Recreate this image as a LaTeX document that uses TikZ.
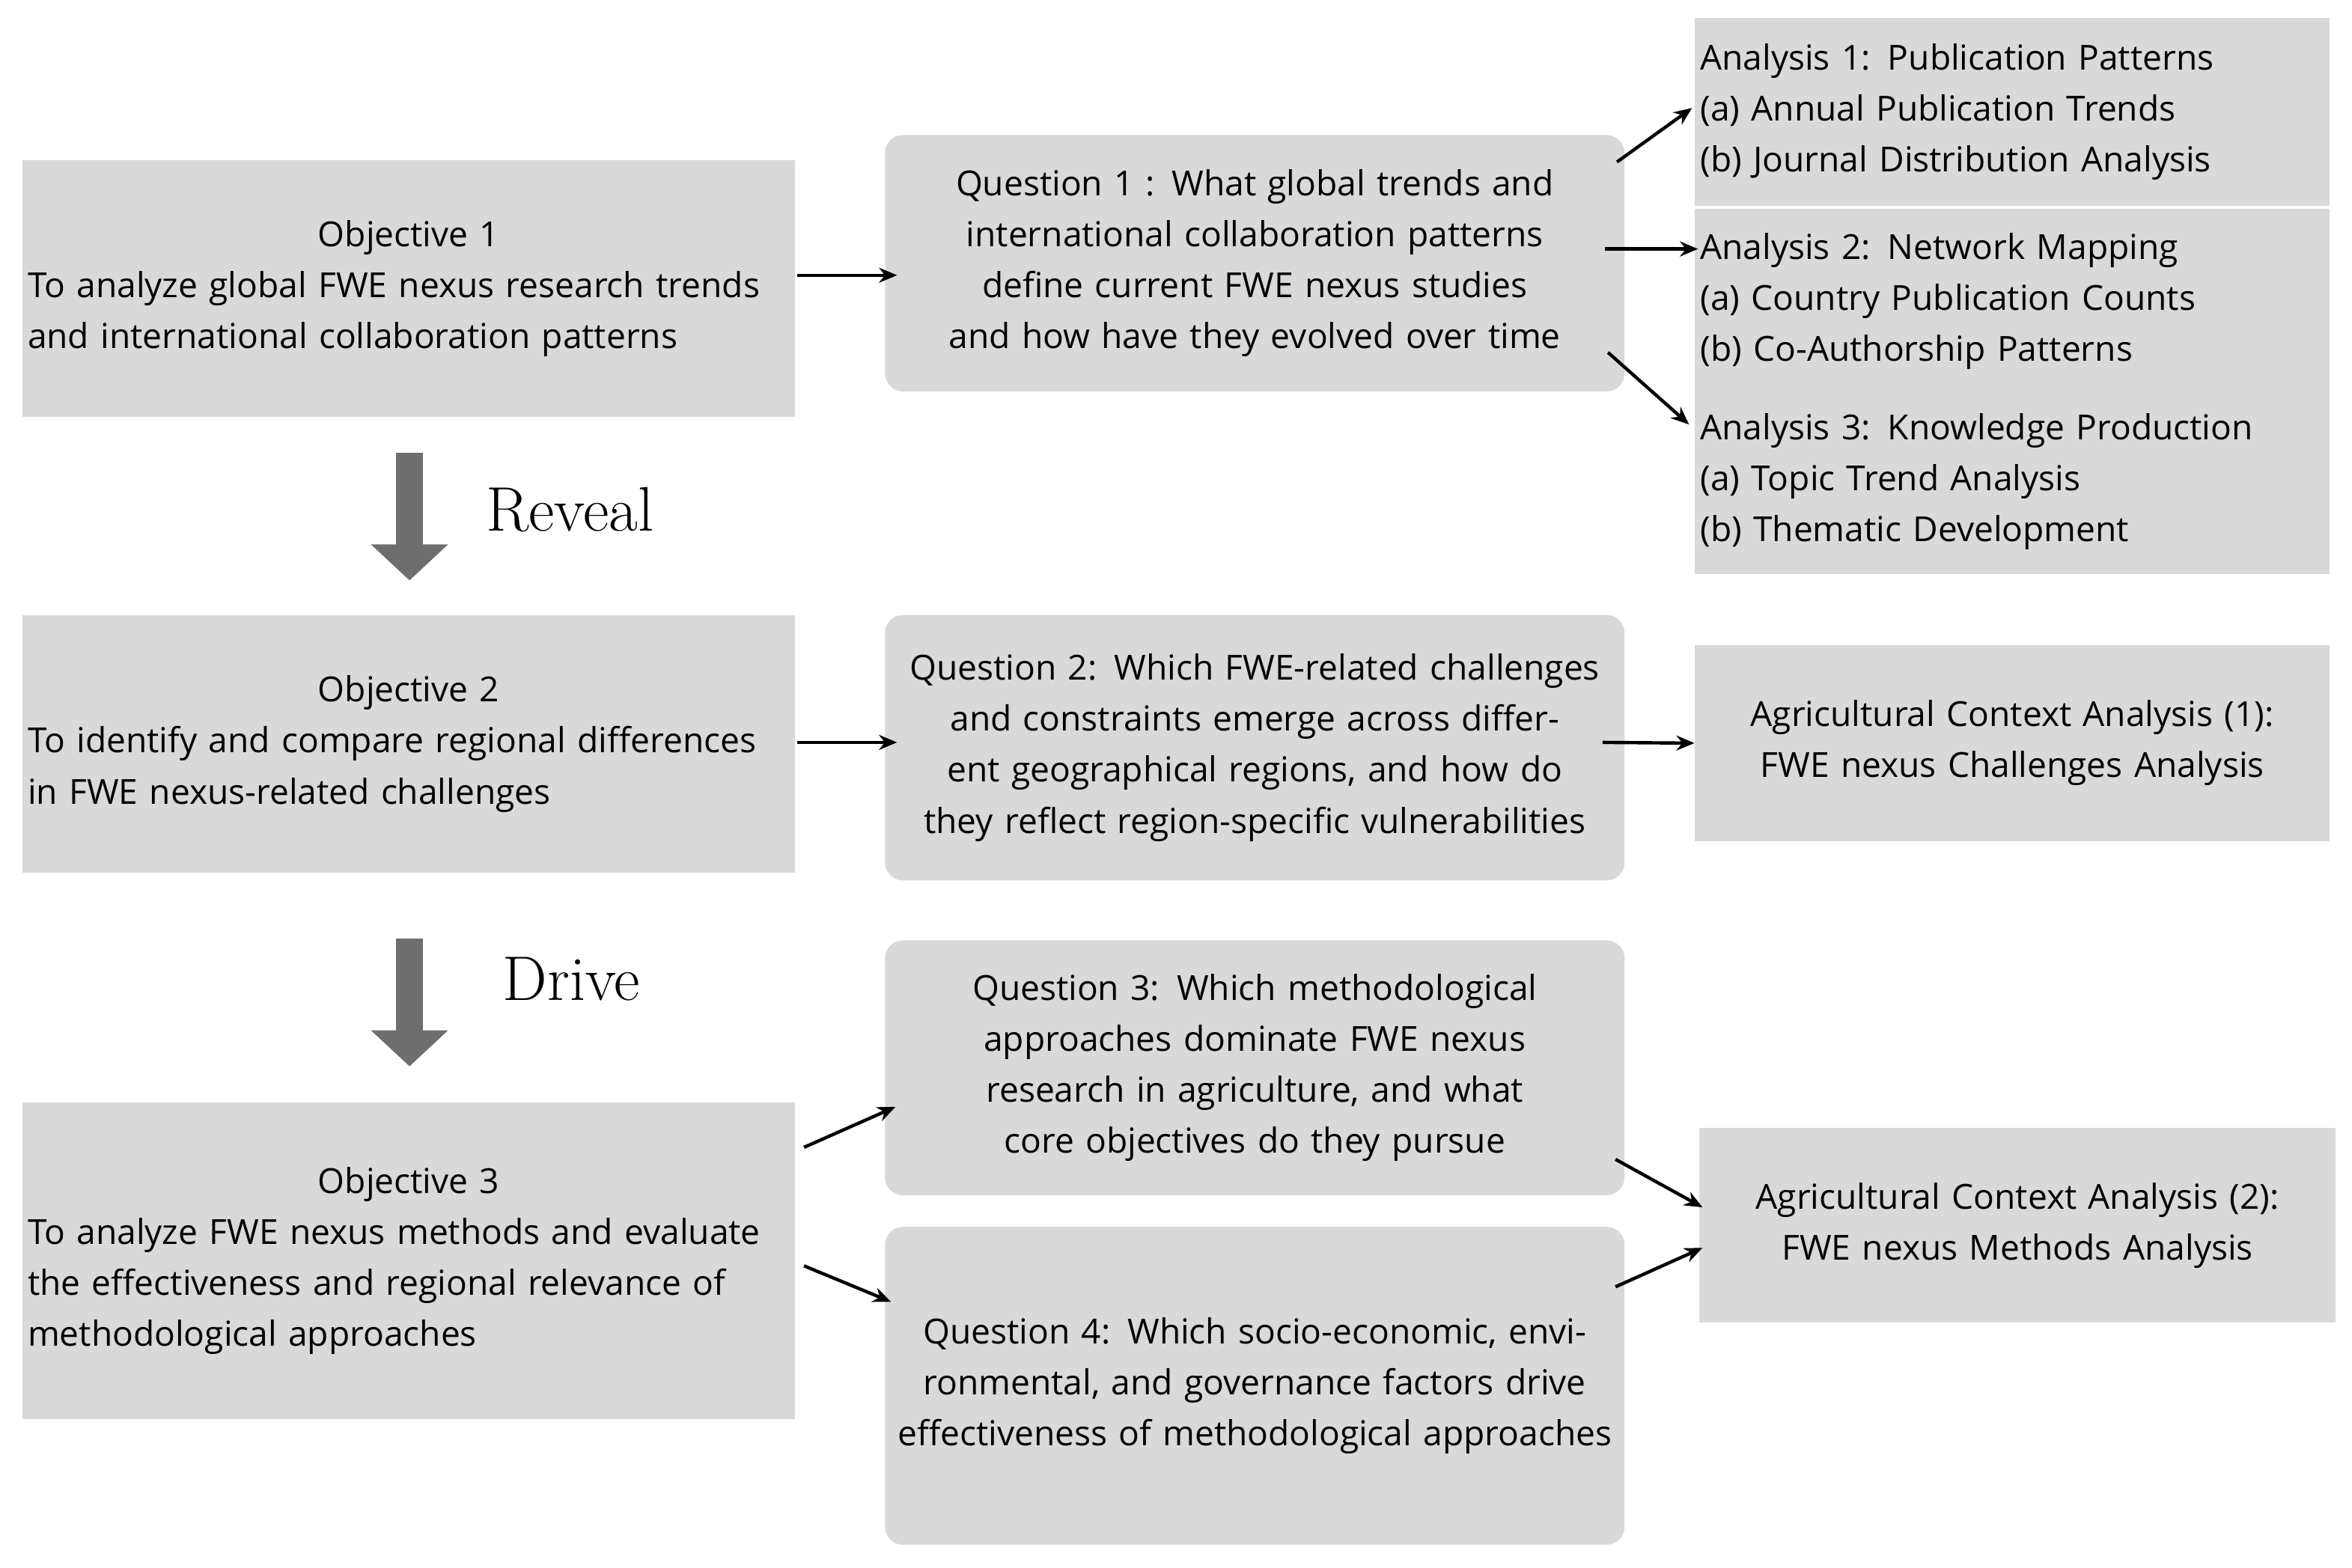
\documentclass[tikz,border=0pt]{standalone}
\usepackage{fontspec}
\setmainfont{Open Sans}
\usetikzlibrary{arrows.meta}
\begin{document}
\begin{tikzpicture}[x=0.5pt,y=-0.5pt,
 box/.style={fill=boxgray,draw=none,inner sep=1.5pt,font=\fontsize{11.5}{17}\selectfont,anchor=center},
 rbox/.style={box,rounded corners=6pt,align=center},
 arr/.style={-{Stealth[length=6pt,width=5pt]},line width=1.1pt},
 bigarr/.style={-{Triangle[length=12pt,width=25pt]},line width=9pt,draw=arrgray}]
\definecolor{boxgray}{HTML}{D9D9D9}
\definecolor{arrgray}{HTML}{6E6E6E}
\useasboundingbox (0,0) rectangle (1568,1045);
% objectives
\node[box,minimum width=257.5pt,minimum height=85.5pt,text width=254pt] (o1) at (272.5,192.5)
 {\centering Objective 1\par\raggedright To analyze global FWE nexus research trends and international collaboration patterns\par};
\node[box,minimum width=257.5pt,minimum height=86pt,text width=254pt] (o2) at (272.5,496)
 {\centering Objective 2\par\raggedright To identify and compare regional differences in FWE nexus-related challenges\par};
\node[box,minimum width=257.5pt,minimum height=105.5pt,text width=254pt] (o3) at (272.5,840.5)
 {\centering Objective 3\par\raggedright To analyze FWE nexus methods and evaluate the effectiveness and regional relevance of methodological approaches\par};
% questions
\node[rbox,minimum width=246.5pt,minimum height=85.5pt,text width=240pt] (q1) at (836.5,175.5)
 {Question 1 : What global trends and international collaboration patterns define current FWE nexus studies and how have they evolved over time};
\node[rbox,minimum width=246.5pt,minimum height=88.5pt,text width=240pt] (q2) at (836.5,498.5)
 {Question 2: Which FWE-related challenges and constraints emerge across different geographical regions, and how do they reflect region-specific vulnerabilities};
\node[rbox,minimum width=246.5pt,minimum height=85pt,text width=240pt] (q3) at (836.5,712)
 {Question 3: Which methodological approaches dominate FWE nexus research in agriculture, and what core objectives do they pursue};
\node[rbox,minimum width=246.5pt,minimum height=106pt,text width=240pt] (q4) at (836.5,924)
 {Question 4: Which socio-economic, environmental, and governance factors drive effectiveness of methodological approaches};
% analyses
\node[box,minimum width=211.5pt,minimum height=62.5pt,text width=208pt,align=left] (a1) at (1341.5,74.5)
 {Analysis 1: Publication Patterns\\(a) Annual Publication Trends\\(b) Journal Distribution Analysis};
\node[box,minimum width=211.5pt,minimum height=122pt,text width=208pt,align=left] (a2) at (1341.5,261)
 {Analysis 2: Network Mapping\\(a) Country Publication Counts\\(b) Co-Authorship Patterns\\[0pt]\rule{0pt}{0pt}\\[-17pt]\rule{0pt}{8.5pt}\\[-8pt]Analysis 3: Knowledge Production\\(a) Topic Trend Analysis\\(b) Thematic Development};
\node[box,minimum width=211.5pt,minimum height=65.5pt,text width=208pt,align=center] (g1) at (1341.5,495.5)
 {Agricultural Context Analysis (1):\\FWE nexus Challenges Analysis};
\node[box,minimum width=212pt,minimum height=65pt,text width=208pt,align=center] (g2) at (1345,817)
 {Agricultural Context Analysis (2):\\FWE nexus Methods Analysis};
% labels
\node[font=\fontfamily{lmr}\selectfont\fontsize{21}{24}\selectfont] (rv) at (380,340) {Reveal};
\node[font=\fontfamily{lmr}\selectfont\fontsize{21}{24}\selectfont] (dr) at (381,653) {Drive};
% coordinates
\coordinate (c1) at (1078,108); \coordinate (d1) at (1128,72);
\coordinate (c2) at (1070,166); \coordinate (d2) at (1132,166);
\coordinate (c3) at (1072,235); \coordinate (d3) at (1126,283);
\coordinate (c4) at (536,765); \coordinate (d4) at (597,738);
\coordinate (c5) at (536,844); \coordinate (d5) at (594,868);
\coordinate (c6) at (1077,773); \coordinate (d6) at (1135,805);
\coordinate (c7) at (1077,858); \coordinate (d7) at (1135,832);
\coordinate (b1) at (273,302); \coordinate (e1) at (273,387);
\coordinate (b2) at (273,626); \coordinate (e2) at (273,711);
% arrows
\draw[arr] (o1.east) ++(1,-9) -- (598,183.5);
\draw[arr] (o2.east) ++(1,-1) -- (598,495);
\draw[arr] (q2.east) ++(-15,-3.5) -- (g1.west);
\draw[arr] (c1) -- (d1);
\draw[arr] (c2) -- (d2);
\draw[arr] (c3) -- (d3);
\draw[arr] (c4) -- (d4);
\draw[arr] (c5) -- (d5);
\draw[arr] (c6) -- (d6);
\draw[arr] (c7) -- (d7);
\draw[bigarr] (b1) -- (e1);
\draw[bigarr] (b2) -- (e2);
\end{tikzpicture}
\end{document}
